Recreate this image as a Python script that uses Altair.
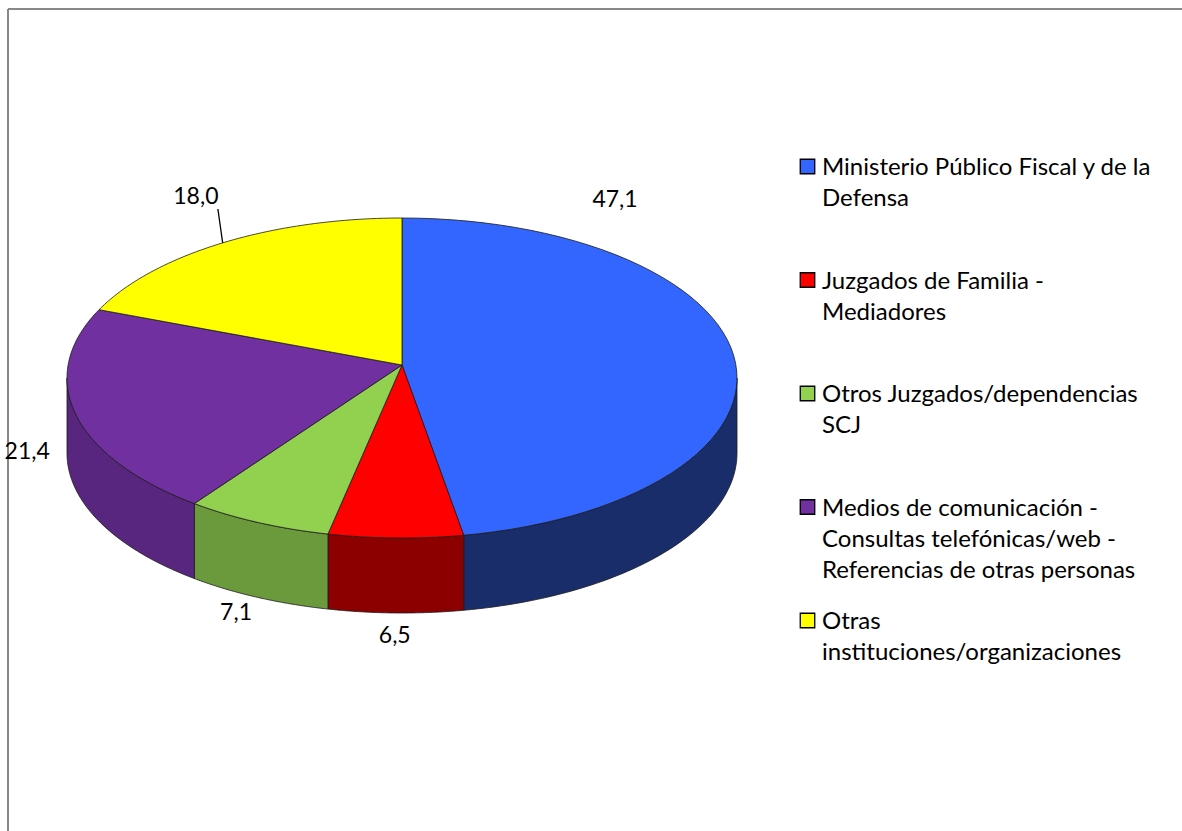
import altair as alt
import pandas as pd

# ---- data ----
categories = [
    "Ministerio Público Fiscal y de la Defensa",
    "Juzgados de Familia - Mediadores",
    "Otros Juzgados/dependencias SCJ",
    "Medios de comunicación - Consultas telefónicas/web - Referencias de otras personas",
    "Otras instituciones/organizaciones",
]
legend_text = [
    "Ministerio Público Fiscal y de la\nDefensa",
    "Juzgados de Familia -\nMediadores",
    "Otros Juzgados/dependencias\nSCJ",
    "Medios de comunicación -\nConsultas telefónicas/web -\nReferencias de otras personas",
    "Otras\ninstituciones/organizaciones",
]
values = [47.1, 6.5, 7.1, 21.4, 18.0]
top_colors = ["#3366FF", "#FF0000", "#92D050", "#7030A0", "#FFFF00"]
side_colors = ["#192D6A", "#8C0000", "#6A9A3C", "#58267F", "#9A9A00"]

df = pd.DataFrame({"cat": categories, "legend": legend_text, "value": values,
                   "idx": list(range(len(values)))})

# ---- geometry of the tilted pie (layout) ----
W, H = 1182, 831
CX, CY = 402, 378      # ellipse centre
RX, RY = 335, 160      # ellipse radii
AX, AY = 402, 365      # apex of the slices
DEPTH = 75
N = 60
LX, LY, LRX, LRY = 402, 398, 385, 238   # label ellipse
LXMAX = 615                              # labels kept left of this (plot-area edge)
LIM = (LXMAX - LX) / LRX

xs = alt.Scale(domain=[0, W], nice=False, zero=False)
ys = alt.Scale(domain=[0, H], nice=False, zero=False, reverse=True)

base = (
    alt.Chart(df)
    .transform_joinaggregate(total="sum(value)")
    .transform_window(cum="sum(value)", sort=[alt.SortField("idx")], frame=[None, 0])
    .transform_calculate(
        t0="2*PI*(datum.cum-datum.value)/datum.total",
        t1="2*PI*datum.cum/datum.total",
    )
    .transform_calculate(tm="(datum.t0+datum.t1)/2")
)

X = alt.X("px:Q", scale=xs, axis=None)
Y = alt.Y("py:Q", scale=ys, axis=None)

# side walls (front half only)
sides = (
    base.transform_calculate(s0="max(datum.t0, PI/2)", s1="min(datum.t1, 3*PI/2)")
    .transform_filter("datum.s1 > datum.s0")
    .transform_calculate(k=f"sequence(0, {2*N+2})")
    .transform_flatten(["k"])
    .transform_calculate(
        th=f"datum.k<={N} ? datum.s0+(datum.s1-datum.s0)*datum.k/{N} : datum.s1-(datum.s1-datum.s0)*(datum.k-{N+1})/{N}",
    )
    .transform_calculate(
        px=f"{CX}+{RX}*sin(datum.th)",
        py=f"{CY}-{RY}*cos(datum.th) + (datum.k<={N} ? 0 : {DEPTH})",
    )
    .mark_line(filled=True, interpolate="linear-closed", stroke="#1a1a1a", strokeWidth=0.8)
    .encode(
        x=X, y=Y,
        color=alt.Color("cat:N", scale=alt.Scale(domain=categories, range=side_colors), legend=None),
        order=alt.Order("k:Q"),
        detail="cat:N",
    )
)

# top faces
tops = (
    base.transform_calculate(k=f"sequence(0, {N+2})")
    .transform_flatten(["k"])
    .transform_calculate(th=f"datum.t0+(datum.t1-datum.t0)*(datum.k-1)/{N}")
    .transform_calculate(
        px=f"datum.k==0 ? {AX} : {CX}+{RX}*sin(datum.th)",
        py=f"datum.k==0 ? {AY} : {CY}-{RY}*cos(datum.th)",
    )
    .mark_line(filled=True, interpolate="linear-closed", stroke="#1a1a1a", strokeWidth=0.8)
    .encode(
        x=X, y=Y,
        color=alt.Color("cat:N", scale=alt.Scale(domain=categories, range=top_colors), legend=None),
        order=alt.Order("k:Q"),
        detail="cat:N",
    )
)

# data labels
lab = base.transform_calculate(
    ls=f"min(sin(datum.tm), {LIM})",
    lc=f"sin(datum.tm) > {LIM} ? sqrt(1-{LIM}*{LIM})*(cos(datum.tm)>=0 ? 1 : -1) : cos(datum.tm)",
).transform_calculate(
    px=f"{LX}+{LRX}*datum.ls",
    py=f"{LY}-{LRY}*datum.lc",
    label="replace(format(datum.value, '.1f'), '.', ',')",
)
labels = lab.mark_text(font="Lato", fontSize=23, color="#000000", align="center",
                       baseline="middle").encode(x=X, y=Y, text="label:N")

# leader line for the label that was pulled away (top-left slice)
leader = (
    lab.transform_filter(f"datum.idx == {len(values)-1}")
    .transform_calculate(
        ex=f"{CX}+{RX}*sin(datum.tm)",
        ey=f"{CY}-{RY}*cos(datum.tm)",
        qx="datum.px+22", qy="datum.py+12",
    )
    .mark_rule(color="#000000", strokeWidth=1.3)
    .encode(x=alt.X("ex:Q", scale=xs, axis=None), y=alt.Y("ey:Q", scale=ys, axis=None),
            x2="qx:Q", y2="qy:Q")
)

# legend
leg = alt.Chart(df).transform_calculate(
    px="822", sx="807.5",
    py="175+113.5*datum.idx", sy="166.5+113.5*datum.idx",
)
leg_sq = leg.mark_square(size=210, filled=True, stroke="#000000", strokeWidth=1.3, opacity=1).encode(
    x=alt.X("sx:Q", scale=xs, axis=None), y=alt.Y("sy:Q", scale=ys, axis=None),
    fill=alt.Fill("cat:N", scale=alt.Scale(domain=categories, range=top_colors), legend=None),
)
leg_tx = leg.mark_text(font="Lato", fontSize=24, color="#000000", align="left",
                       baseline="alphabetic", lineBreak="\n", lineHeight=31).encode(
    x=X, y=Y, text="legend:N")

# chart frame (top and left edges visible)
frame_df = pd.DataFrame({"a": [0]})
frame_top = alt.Chart(frame_df).mark_rule(color="#888888", strokeWidth=2).encode(
    x=alt.value(8), x2=alt.value(W), y=alt.value(9))
frame_left = alt.Chart(frame_df).mark_rule(color="#888888", strokeWidth=2).encode(
    x=alt.value(8), y=alt.value(9), y2=alt.value(H))

chart = (
    alt.layer(frame_top, frame_left, sides, tops, leader, labels, leg_sq, leg_tx)
    .resolve_scale(color="independent", fill="independent")
    .properties(width=W, height=H, autosize=alt.AutoSizeParams(type="none"), padding=0,
                background="white")
    .configure_view(stroke=None)
)

chart.save("out.html", embed_options={"renderer": "svg", "actions": False})
